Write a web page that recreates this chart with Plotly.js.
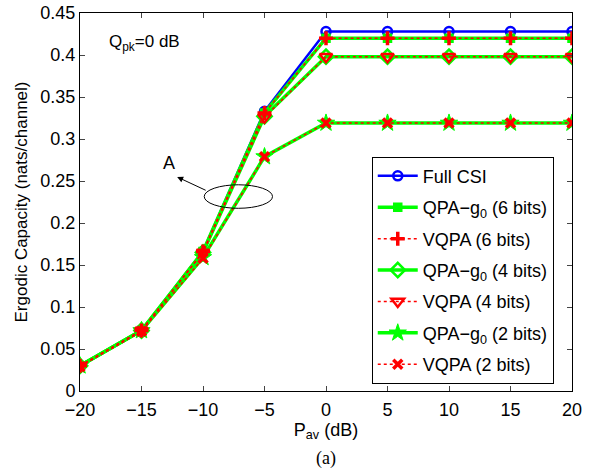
<!DOCTYPE html>
<html><head><meta charset="utf-8">
<script src="https://cdn.plot.ly/plotly-3.0.1.min.js"></script>
<style>body{margin:0;background:#fff}#c{width:592px;height:469px}</style>
</head><body><div id="c"></div>
<script>
const pav = [-20, -15, -10, -5, 0, 5, 10, 15, 20];
const fullCSI = [0.030, 0.072, 0.166, 0.333, 0.428, 0.428, 0.428, 0.428, 0.428];
const qpa6 = [0.030, 0.072, 0.166, 0.331, 0.420, 0.420, 0.420, 0.420, 0.420];
const vqpa6 = [0.030, 0.072, 0.166, 0.331, 0.420, 0.420, 0.420, 0.420, 0.420];
const qpa4 = [0.030, 0.072, 0.165, 0.327, 0.398, 0.398, 0.398, 0.398, 0.398];
const vqpa4 = [0.030, 0.072, 0.165, 0.326, 0.398, 0.398, 0.398, 0.398, 0.398];
const qpa2 = [0.030, 0.072, 0.159, 0.279, 0.319, 0.319, 0.319, 0.319, 0.319];
const vqpa2 = [0.029, 0.071, 0.158, 0.279, 0.319, 0.319, 0.319, 0.319, 0.319];
const names = ['Full CSI', 'QPA\u2212g<sub>0</sub> (6 bits)', 'VQPA (6 bits)', 'QPA\u2212g<sub>0</sub> (4 bits)', 'VQPA (4 bits)', 'QPA\u2212g<sub>0</sub> (2 bits)', 'VQPA (2 bits)'];

const green = '#00ff00', red = '#ff0000', blue = '#0000ff';
function tr(y, name, color, dash, w, sym, size, lw, order, g) {
  return {x: pav, y: y, name: name, type: 'scatter', mode: 'lines+markers',
    legendgroup: g, legendrank: order,
    line: {color: color, width: w, dash: dash},
    marker: {symbol: sym, size: size, color: color, line: {color: color, width: lw}}};
}
const data = [
  tr(fullCSI, names[0], blue, 'solid', 2.5, 'circle-open', 9, 2.5, 1, 'a'),
  tr(qpa6, names[1], green, 'solid', 3.5, 'square', 8, 1.5, 2, 'b'),
  tr(qpa4, names[3], green, 'solid', 3.5, 'diamond-open', 11, 2.5, 4, 'd'),
  tr(qpa2, names[5], green, 'solid', 3.5, 'star', 13, 1, 6, 'f'),
  tr(vqpa6, names[2], red, 'dot', 1.5, 'cross-thin-open', 10, 3.5, 3, 'c'),
  tr(vqpa4, names[4], red, 'dot', 1.5, 'triangle-down-open', 11, 2.5, 5, 'e'),
  tr(vqpa2, names[6], red, 'dot', 1.5, 'x-thin-open', 9, 3.5, 7, 'g')
];

const ff = 'Liberation Sans, Arial, sans-serif';
const layout = {
  width: 592, height: 469,
  margin: {l: 80, r: 20, t: 13, b: 78},
  paper_bgcolor: '#fff', plot_bgcolor: '#fff',
  font: {family: ff, size: 17, color: '#000'},
  showlegend: true,
  legend: {x: 0.593, y: 0.62, xanchor: 'left', yanchor: 'top',
    bordercolor: '#000', borderwidth: 1, bgcolor: '#fff',
    font: {family: ff, size: 18, color: '#000'},
    tracegroupgap: 5, traceorder: 'grouped', itemwidth: 40},
  xaxis: {range: [-20, 20], tickvals: pav, ticks: 'inside', ticklen: 5,
    showline: true, linecolor: '#000', linewidth: 1, mirror: 'ticks',
    showgrid: false, zeroline: false, tickfont: {family: ff, size: 18}, ticklabelstandoff: 2,
    title: {text: 'P<sub>av</sub> (dB)', font: {family: ff, size: 18}, standoff: 3}},
  yaxis: {range: [0, 0.45], dtick: 0.05, ticks: 'inside', ticklen: 5,
    showline: true, linecolor: '#000', linewidth: 1, mirror: 'ticks',
    showgrid: false, zeroline: false, tickfont: {family: ff, size: 18},
    title: {text: 'Ergodic Capacity (nats/channel)', font: {family: ff, size: 17}, standoff: 8}},
  shapes: [
    {type: 'circle', xref: 'x', yref: 'y', x0: -9.9, x1: -4.35, y0: 0.2175, y1: 0.2455,
      line: {color: '#000', width: 1}}
  ],
  annotations: [
    {xref: 'x', yref: 'y', x: -12.1, y: 0.2548, ax: 30, ay: 14, text: '',
      showarrow: true, arrowhead: 2, arrowsize: 1.2, arrowwidth: 1, arrowcolor: '#000'},
    {xref: 'x', yref: 'y', x: -12.75, y: 0.272, text: 'A', showarrow: false, font: {family: ff, size: 18}},
    {xref: 'paper', yref: 'paper', x: 0.055, y: 0.92, xanchor: 'left', yanchor: 'middle',
      text: 'Q<sub>pk</sub>=0 dB', showarrow: false, font: {family: ff, size: 17}},
    {xref: 'paper', yref: 'paper', x: 0.5, y: -0.178, xanchor: 'center', yanchor: 'middle',
      text: '(a)', showarrow: false, font: {family: 'Liberation Serif, Times New Roman, serif', size: 18}}
  ]
};
Plotly.newPlot('c', data, layout, {displayModeBar: false, staticPlot: true});
</script></body></html>
